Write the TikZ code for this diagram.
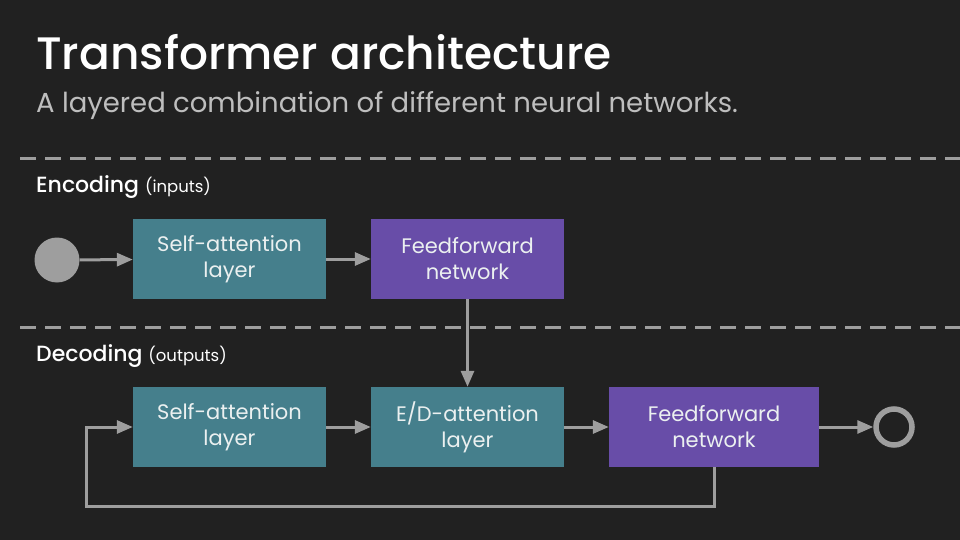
\documentclass[tikz,border=0pt]{standalone}
\usepackage{fontspec}
\setmainfont{Poppins}
\newfontfamily\titlefont{Poppins Medium}
\usetikzlibrary{arrows.meta}
\definecolor{bg}{RGB}{33,33,33}
\definecolor{linegray}{RGB}{158,158,158}
\definecolor{teal}{RGB}{69,127,140}
\definecolor{purp}{RGB}{104,77,168}
\definecolor{subgray}{RGB}{190,190,190}
\definecolor{boxtext}{RGB}{235,240,240}
\begin{document}
\begin{tikzpicture}[x=1pt,y=-1pt,
  box/.style={rectangle,minimum height=80pt,text=boxtext,align=center,font=\fontsize{21}{26}\selectfont,inner sep=0pt},
  tealbox/.style={box,fill=teal,minimum width=193pt},
  purpbox/.style={box,fill=purp,minimum width=193pt},
  conn/.style={draw=linegray,line width=3pt,-{Triangle[length=16pt,width=13pt]}},
  sep/.style={draw=linegray,line width=3pt,dash pattern=on 16pt off 9pt},
  heading/.style={anchor=base west,inner sep=0pt,text=white}
]
\fill[bg] (0,0) rectangle (960,540);
\useasboundingbox (0,0) rectangle (960,540);

\node[heading,font=\titlefont\fontsize{45.5}{50}\selectfont] (title) at (36,70) {Transformer architecture};
\node[heading,text=subgray,font=\fontsize{27.5}{32}\selectfont] (subtitle) at (36,113) {A layered combination of different neural networks.};

\draw[sep] (20,159) -- (960,159);
\draw[sep] (20,327) -- (960,327);

\node[heading,font=\fontsize{22}{26}\selectfont] (enc) at (36,193) {{\titlefont Encoding} {\fontsize{16.5}{20}\selectfont(inputs)}};
\node[heading,font=\fontsize{22}{26}\selectfont] (dec) at (36,361) {{\titlefont Decoding} {\fontsize{16.5}{20}\selectfont(outputs)}};

\node[circle,fill=linegray,minimum size=45pt,inner sep=0pt] (in) at (57,260) {};
\node[tealbox] (esa) at (229.5,259) {Self-attention\\layer};
\node[purpbox] (eff) at (467.5,259) {Feedforward\\network};

\node[tealbox] (dsa) at (229.5,427) {Self-attention\\layer};
\node[tealbox] (ded) at (467.5,427) {E/D-attention\\layer};
\node[purpbox,minimum width=210pt] (dff) at (714,427) {Feedforward\\network};
\node[circle,draw=linegray,line width=5.5pt,minimum size=36pt,inner sep=0pt] (out) at (894,427) {};

\draw[conn] (in) -- (esa);
\draw[conn] (esa) -- (eff);
\draw[conn] (eff) -- (ded);
\draw[conn] (dsa) -- (ded);
\draw[conn] (ded) -- (dff);
\draw[conn] (dff) -- (out);
\coordinate (fb1) at (714,506);
\coordinate (fb2) at (86,506);
\coordinate (fb3) at (86,427);
\draw[conn] (dff.south) -- (fb1) -- (fb2) -- (fb3) -- (dsa.west);
\end{tikzpicture}
\end{document}
